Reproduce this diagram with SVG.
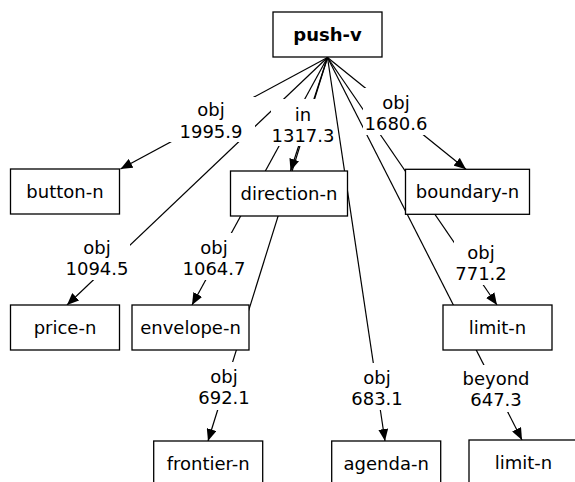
<svg xmlns="http://www.w3.org/2000/svg" width="575" height="482" viewBox="0 0 575 482">
<style>
.n rect{fill:#fff;stroke:#000;stroke-width:1.3}
text{font-family:"DejaVu Sans","Liberation Sans",sans-serif;font-size:18px;fill:#000;text-anchor:middle}
.b{font-weight:bold}
.e line{stroke:#000;stroke-width:1.2;marker-end:url(#ah)}
.l rect{fill:#fff;stroke:none}
</style>
<defs>
<marker id="ah" markerUnits="userSpaceOnUse" markerWidth="12" markerHeight="10" refX="12" refY="5" orient="auto" viewBox="0 0 12 10">
<path d="M0,0 L12,5 L0,10 z" fill="#000"/>
</marker>
</defs>
<g id="edges" class="e">
<line x1="327.5" y1="57.5" x2="120.5" y2="169"/>
<line x1="327.5" y1="57.5" x2="290.5" y2="171"/>
<line x1="327.5" y1="57.5" x2="466" y2="169.3"/>
<line x1="327.5" y1="57.5" x2="67" y2="305"/>
<line x1="327.5" y1="57.5" x2="192" y2="305"/>
<line x1="327.5" y1="57.5" x2="497" y2="305"/>
<line x1="327.5" y1="57.5" x2="208" y2="441"/>
<line x1="327.5" y1="57.5" x2="385" y2="441"/>
<line x1="327.5" y1="57.5" x2="522" y2="440"/>
</g>
<g id="labels" class="l">
<g id="l-button"><rect x="168" y="97" width="87" height="45"/><text x="211" y="116">obj</text><text x="211" y="137.5">1995.9</text></g>
<g id="l-direction"><rect x="271" y="99" width="62" height="47"/><text x="303" y="120.5">in</text><text x="303" y="142">1317.3</text></g>
<g id="l-boundary"><rect x="363" y="88" width="66" height="47"/><text x="396" y="108.5">obj</text><text x="396" y="130">1680.6</text></g>
<g id="l-price"><rect x="64" y="234" width="66" height="46"/><text x="97" y="253.5">obj</text><text x="97" y="275">1094.5</text></g>
<g id="l-envelope"><rect x="182" y="233" width="64" height="47"/><text x="214" y="253.5">obj</text><text x="214" y="275">1064.7</text></g>
<g id="l-limit1"><rect x="454" y="241" width="54" height="44"/><text x="481" y="258.5">obj</text><text x="481" y="280">771.2</text></g>
<g id="l-frontier"><rect x="197" y="362" width="54" height="48"/><text x="224" y="382.5">obj</text><text x="224" y="404">692.1</text></g>
<g id="l-agenda"><rect x="350" y="363" width="54" height="47"/><text x="377" y="383.5">obj</text><text x="377" y="405">683.1</text></g>
<g id="l-limit2"><rect x="462" y="365" width="68" height="47"/><text x="496" y="384.5">beyond</text><text x="496" y="406">647.3</text></g>
</g>
<g id="push-v" class="n"><rect x="273" y="12" width="109" height="45"/><text class="b" x="327.5" y="41">push-v</text></g>
<g id="button-n" class="n"><rect x="10.5" y="169" width="109" height="45"/><text x="65" y="198">button-n</text></g>
<g id="direction-n" class="n"><rect x="230.5" y="171" width="117" height="45"/><text x="289" y="200">direction-n</text></g>
<g id="boundary-n" class="n"><rect x="405.5" y="169.3" width="124" height="45"/><text x="467.5" y="198.3">boundary-n</text></g>
<g id="price-n" class="n"><rect x="10.5" y="305" width="109" height="45"/><text x="65" y="334">price-n</text></g>
<g id="envelope-n" class="n"><rect x="132" y="305" width="117" height="45"/><text x="190.5" y="334">envelope-n</text></g>
<g id="limit-n-1" class="n"><rect x="443" y="305" width="109" height="45"/><text x="497.5" y="334">limit-n</text></g>
<g id="frontier-n" class="n"><rect x="153.7" y="441" width="109" height="45"/><text x="208.2" y="470">frontier-n</text></g>
<g id="agenda-n" class="n"><rect x="331.7" y="441" width="109" height="45"/><text x="386.2" y="470">agenda-n</text></g>
<g id="limit-n-2" class="n"><rect x="469" y="440" width="109" height="45"/><text x="523.5" y="469">limit-n</text></g>
</svg>
